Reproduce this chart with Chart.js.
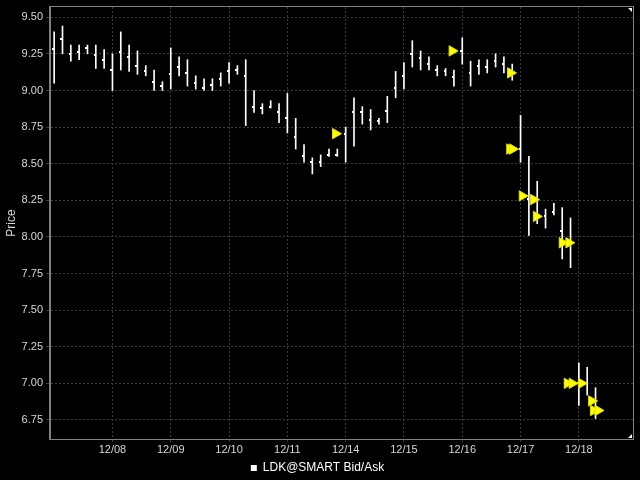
<!DOCTYPE html>
<html lang="en">
<head>
    <meta charset="UTF-8">
    <title>LDK@SMART Bid/Ask</title>
    <script src="https://cdn.jsdelivr.net/npm/chart.js"></script>
    <style>
        body {
            margin: 0;
            background-color: #000000;
        }
        .chart-box {
            width: 640px;
            height: 480px;
        }
    </style>
</head>
<body>

<div class="chart-box">
    <canvas id="priceChart"></canvas>
</div>

<script>
    // Trading days, 7 hourly bars per day
    const dayLabels = ['12/07', '12/08', '12/09', '12/10', '12/11', '12/14', '12/15', '12/16', '12/17', '12/18'];
    const barsPerDay = 7;

    // Bid/Ask bars: high, low and last tick, one per hour
    const barHigh = [
        9.40, 9.44, 9.31, 9.31, 9.31, 9.31, 9.28,
        9.25, 9.40, 9.31, 9.27, 9.17, 9.14, 9.06,
        9.29, 9.23, 9.21, 9.10, 9.08, 9.08, 9.12,
        9.19, 9.17, 9.21, 9.00, 8.91, 8.93, 8.91,
        8.98, 8.81, 8.63, 8.54, 8.56, 8.60, 8.60,
        8.75, 8.95, 8.89, 8.87, 8.81, 8.96, 9.13,
        9.19, 9.34, 9.27, 9.23, 9.17, 9.15, 9.14,
        9.36, 9.20, 9.21, 9.21, 9.25, 9.23, 9.18,
        8.83, 8.55, 8.38, 8.19, 8.23, 8.20, 8.13,
        7.14, 7.11, 6.97
    ];
    const barLow = [
        9.05, 9.25, 9.20, 9.21, 9.25, 9.15, 9.15,
        9.00, 9.14, 9.13, 9.11, 9.10, 9.00, 9.00,
        9.01, 9.10, 9.03, 9.01, 9.00, 9.00, 9.03,
        9.05, 9.11, 8.76, 8.85, 8.84, 8.88, 8.78,
        8.71, 8.60, 8.51, 8.43, 8.48, 8.55, 8.55,
        8.51, 8.62, 8.77, 8.73, 8.77, 8.78, 8.95,
        9.01, 9.16, 9.14, 9.14, 9.10, 9.10, 9.03,
        9.18, 9.03, 9.11, 9.12, 9.16, 9.12, 9.07,
        8.51, 8.01, 8.09, 8.06, 8.15, 7.85, 7.79,
        6.85, 6.92, 6.76
    ];
    const barLast = [
        9.28, 9.35, 9.25, 9.26, 9.29, 9.24, 9.21,
        9.14, 9.26, 9.23, 9.17, 9.13, 9.06, 9.03,
        9.11, 9.16, 9.12, 9.05, 9.02, 9.04, 9.08,
        9.13, 9.14, 9.10, 8.89, 8.88, 8.89, 8.85,
        8.81, 8.68, 8.55, 8.51, 8.51, 8.56, 8.56,
        8.70, 8.85, 8.85, 8.80, 8.79, 8.86, 9.02,
        9.10, 9.25, 9.22, 9.18, 9.14, 9.13, 9.09,
        9.27, 9.12, 9.17, 9.16, 9.20, 9.18, 9.12,
        8.60, 8.26, 8.14, 8.14, 8.17, 8.04, 7.96,
        7.00, 7.00, 6.81
    ];

    // Executions (position in bars, price)
    const tradeAt = [33.78, 47.78, 54.8, 54.7, 55.04, 56.2, 57.56, 57.9, 61.0, 61.8, 61.6, 62.2, 63.3, 64.53, 64.75, 65.3];
    const tradePrice = [8.705, 9.27, 9.12, 8.60, 8.60, 8.28, 8.255, 8.14, 7.96, 7.96, 7.00, 7.00, 7.00, 6.88, 6.815, 6.815];

    const yTicks = [6.75, 7.00, 7.25, 7.50, 7.75, 8.00, 8.25, 8.50, 8.75, 9.00, 9.25, 9.50];
    const yMin = 6.62;
    const yMax = 9.57;

    const barData = barHigh.map((h, i) => ({ x: i, y: [barLow[i], h] }));
    const lastData = barLast.map((v, i) => ({ x: i, y: v }));
    const tradeData = tradeAt.map((x, i) => ({ x: x, y: tradePrice[i] }));

    // small tick mark sitting on the left side of each bar
    const tickMark = document.createElement('canvas');
    tickMark.width = 4;
    tickMark.height = 2;
    const tctx = tickMark.getContext('2d');
    tctx.fillStyle = '#ffffff';
    tctx.fillRect(0, 0, 2, 2);

    // gray frame round the plot area and the little corner marks
    const framePlugin = {
        id: 'frame',
        afterDraw(chart) {
            const a = chart.chartArea;
            const c = chart.ctx;
            c.save();
            c.strokeStyle = '#808080';
            c.lineWidth = 1;
            c.strokeRect(Math.round(a.left) - 0.5, Math.round(a.top) - 0.5, Math.round(a.right - a.left) + 1, Math.round(a.bottom - a.top) + 1);
            c.fillStyle = '#ffffff';
            c.beginPath();
            c.moveTo(a.right - 5, a.top + 1);
            c.lineTo(a.right - 1, a.top + 1);
            c.lineTo(a.right - 1, a.top + 5);
            c.fill();
            c.beginPath();
            c.moveTo(a.right - 1, a.bottom - 5);
            c.lineTo(a.right - 1, a.bottom - 1);
            c.lineTo(a.right - 5, a.bottom - 1);
            c.fill();
            c.restore();
        }
    };

    const ctx = document.getElementById('priceChart').getContext('2d');
    new Chart(ctx, {
        type: 'bar',
        data: {
            datasets: [
                {
                    type: 'scatter',
                    label: 'Trades',
                    data: tradeData,
                    pointStyle: 'triangle',
                    rotation: 90,
                    radius: 6,
                    backgroundColor: '#ffff00',
                    borderColor: '#dede00',
                    borderWidth: 1,
                    order: 0
                },
                {
                    type: 'scatter',
                    label: 'Last',
                    data: lastData,
                    pointStyle: tickMark,
                    radius: 2,
                    order: 1
                },
                {
                    label: 'LDK@SMART Bid/Ask',
                    data: barData,
                    backgroundColor: '#ffffff',
                    borderWidth: 0,
                    barThickness: 1,
                    order: 2
                }
            ]
        },
        options: {
            responsive: true,
            maintainAspectRatio: false,
            animation: false,
            layout: {
                padding: { top: 5, right: 5, left: 0, bottom: -4 }
            },
            plugins: {
                legend: {
                    position: 'bottom',
                    labels: {
                        color: '#ffffff',
                        font: { family: 'Liberation Sans', size: 12 },
                        boxWidth: 6,
                        boxHeight: 6,
                        padding: 1,
                        filter: item => item.text === 'LDK@SMART Bid/Ask'
                    }
                },
                tooltip: { enabled: false }
            },
            scales: {
                x: {
                    type: 'linear',
                    offset: false,
                    min: -0.5,
                    max: dayLabels.length * barsPerDay - 0.5,
                    afterBuildTicks: scale => {
                        scale.ticks = dayLabels.slice(1).map((d, i) => ({ value: (i + 1) * barsPerDay }));
                    },
                    afterFit: scale => {
                        scale.height = 22;
                        scale.paddingLeft = 0;
                        scale.paddingRight = 0;
                    },
                    ticks: {
                        color: '#d8d8d8',
                        font: { family: 'Liberation Sans', size: 11 },
                        padding: 1,
                        maxRotation: 0,
                        callback: value => dayLabels[Math.round(value / barsPerDay)]
                    },
                    grid: {
                        offset: false,
                        color: '#3c3c3c',
                        tickLength: 3,
                        tickColor: '#3c3c3c'
                    },
                    border: { color: '#808080', dash: [2, 2] }
                },
                y: {
                    type: 'linear',
                    min: yMin,
                    max: yMax,
                    afterBuildTicks: scale => {
                        scale.ticks = yTicks.map(v => ({ value: v }));
                    },
                    afterFit: scale => {
                        scale.width = 50;
                        scale.paddingTop = 0;
                        scale.paddingBottom = 0;
                    },
                    title: {
                        display: true,
                        text: 'Price',
                        color: '#d8d8d8',
                        font: { family: 'Liberation Sans', size: 12 },
                        padding: { top: 4, bottom: 0 }
                    },
                    ticks: {
                        color: '#d8d8d8',
                        font: { family: 'Liberation Sans', size: 11 },
                        padding: 3,
                        callback: value => value.toFixed(2)
                    },
                    grid: {
                        color: '#3c3c3c',
                        tickLength: 4,
                        tickColor: '#3c3c3c'
                    },
                    border: { color: '#808080', dash: [2, 2] }
                }
            }
        },
        plugins: [framePlugin]
    });
</script>

</body>
</html>
